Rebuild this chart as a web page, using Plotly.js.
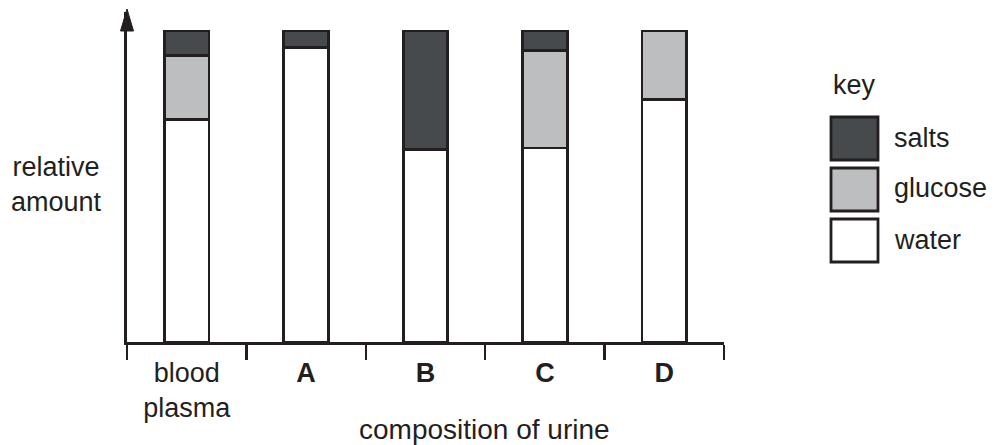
<!DOCTYPE html>
<html>
<head>
<meta charset="utf-8">
<script src="https://cdn.plot.ly/plotly-3.0.1.min.js"></script>
<style>
  html, body { margin: 0; padding: 0; background: #ffffff; }
  #chart { width: 998px; height: 445px; }
</style>
</head>
<body>
<div id="chart"></div>
<script>
// ---- data (relative amounts, % of each bar) ----
var categories = ['blood plasma', 'A', 'B', 'C', 'D'];
var tickLabels = ['blood<br>plasma', '<b>A</b>', '<b>B</b>', '<b>C</b>', '<b>D</b>'];
var water   = [71.6, 94.6, 62.0, 62.4, 78.0];
var glucose = [20.6, 0, 0, 31.2, 22.0];
var salts   = [7.8, 5.4, 38.0, 6.4, 0];
var seriesNames = ['salts', 'glucose', 'water'];
var seriesColors = ['#474a4c', '#bcbec0', '#ffffff'];

var ink = '#231f20';
var FONT = 'Liberation Sans, Arial, Helvetica, sans-serif';
var FS = 27;

// plot area in pixels
var L = 127, R = 724, T = 12, B = 342;
function px2x(p) { return (p - L) / (R - L); }
function px2y(p) { return (B - p) / (B - T); }

function barTrace(name, vals, color) {
  return {
    type: 'bar', name: name, x: categories, y: vals,
    width: 0.375,
    marker: { color: color, line: { color: ink, width: 2.8 } },
    showlegend: false, hoverinfo: 'skip'
  };
}

var data = [
  barTrace('water', water, seriesColors[2]),
  barTrace('glucose', glucose, seriesColors[1]),
  barTrace('salts', salts, seriesColors[0])
];

var shapes = [
  // arrow head on y axis
  { type: 'path', xref: 'paper', yref: 'paper', xsizemode: 'pixel', ysizemode: 'pixel',
    xanchor: 0, yanchor: 1,
    path: 'M -6.5 -19 L 0 3 L 6.5 -19 Z',
    fillcolor: ink, line: { color: ink, width: 1 } }
];

var annotations = [
  { text: 'relative<br>amount', xref: 'paper', yref: 'paper', x: px2x(56), y: px2y(184),
    xanchor: 'center', yanchor: 'middle', showarrow: false,
    font: { family: FONT, size: FS, color: ink } },
  { text: 'composition of urine', xref: 'paper', yref: 'paper', x: px2x(484), y: px2y(429),
    xanchor: 'center', yanchor: 'middle', showarrow: false,
    font: { family: FONT, size: 28, color: ink } },
  { text: 'key', xref: 'paper', yref: 'paper', x: px2x(831), y: px2y(85),
    xanchor: 'left', yanchor: 'middle', showarrow: false,
    font: { family: FONT, size: FS, color: ink } }
];

// manual key boxes
var boxTops = [117, 168, 219];
var labelY = [138, 188, 240];
for (var i = 0; i < seriesNames.length; i++) {
  shapes.push({ type: 'rect', xref: 'paper', yref: 'paper',
    x0: px2x(831), x1: px2x(878), y0: px2y(boxTops[i] + 43), y1: px2y(boxTops[i]),
    fillcolor: seriesColors[i], line: { color: ink, width: 2.8 } });
  annotations.push({ text: seriesNames[i], xref: 'paper', yref: 'paper',
    x: px2x(892), y: px2y(labelY[i]), xanchor: 'left', yanchor: 'middle', showarrow: false,
    font: { family: FONT, size: FS, color: ink } });
}

var layout = {
  width: 998, height: 445,
  margin: { l: L, r: 998 - R, t: T, b: 445 - B, pad: 0 },
  paper_bgcolor: '#ffffff', plot_bgcolor: '#ffffff',
  barmode: 'stack',
  showlegend: false,
  font: { family: FONT, size: FS, color: ink },
  xaxis: {
    type: 'category', categoryorder: 'array', categoryarray: categories,
    range: [-0.5, 4.5],
    tickmode: 'array', tickvals: categories, ticktext: tickLabels,
    tickson: 'boundaries', ticks: 'outside', ticklen: 15, tickwidth: 2.4, tickcolor: ink,
    ticklabelstandoff: 5,
    showline: true, linecolor: ink, linewidth: 2.6,
    showgrid: false, zeroline: false, fixedrange: true,
    tickfont: { family: FONT, size: FS, color: ink }
  },
  yaxis: {
    range: [0, 106.1],
    showline: true, linecolor: ink, linewidth: 2.6,
    showticklabels: false, ticks: '', showgrid: false, zeroline: false, fixedrange: true
  },
  shapes: shapes,
  annotations: annotations
};

Plotly.newPlot('chart', data, layout, { staticPlot: true, displayModeBar: false });
</script>
</body>
</html>
